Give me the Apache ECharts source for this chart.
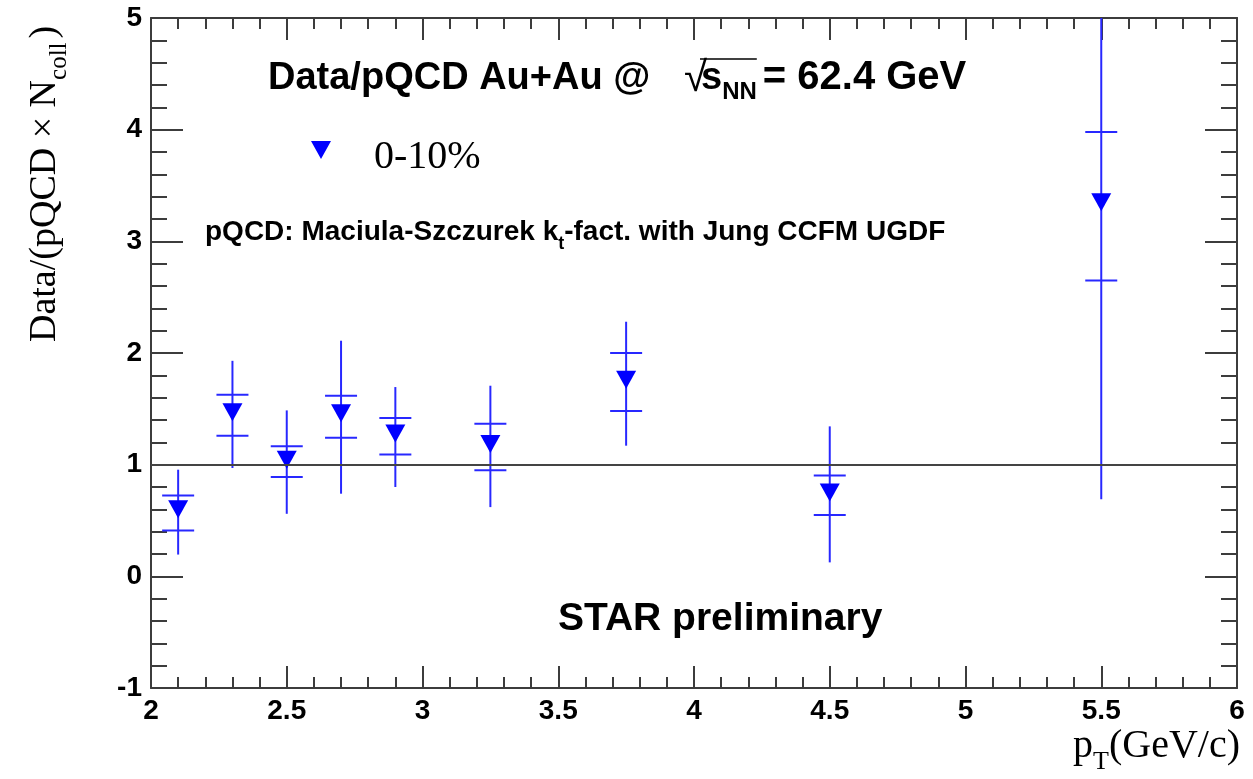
<!DOCTYPE html>
<html><head><meta charset="utf-8">
<script src="https://cdn.jsdelivr.net/npm/echarts@6/dist/echarts.min.js"></script>
<style>html,body{margin:0;padding:0;background:#fff}#c{width:1253px;height:779px}</style>
</head><body><div id="c"></div>
<script>
// ---- data ----
const pT       = [2.1, 2.3, 2.5, 2.7, 2.9, 3.25, 3.75, 4.5, 5.5];
const ratio    = [0.60, 1.47, 1.045, 1.46, 1.28, 1.185, 1.76, 0.75, 3.35];
const statLow  = [0.195, 0.97, 0.56, 0.74, 0.80, 0.62, 1.17, 0.125, 0.69];
const statHigh = [0.955, 1.93, 1.486, 2.11, 1.695, 1.707, 2.28, 1.343, 6.01];
const sysLow   = [0.41, 1.26, 0.89, 1.24, 1.09, 0.95, 1.48, 0.55, 2.65];
const sysHigh  = [0.725, 1.627, 1.164, 1.618, 1.418, 1.367, 2.0, 0.904, 3.98];
const referenceLevel = 1;
const xRange = [2, 6];
const xStep = 0.5;
const yRange = [-1, 5];
const yStep = 1;
const seriesName = '0-10%';

// ---- styling ----
const SANS = 'Liberation Sans, Arial, Helvetica, sans-serif';
const SERIF = 'Liberation Serif, Times New Roman, serif';
const AX = '#3c3c3c';
const BLUE = '#0000ff';
const ERR = 'rgb(40,40,255)';

const ctx = document.createElement('canvas').getContext('2d');
function measure(t, font) { ctx.font = font; return ctx.measureText(t).width; }
function fontOf(p) { return (p.bold ? 'bold ' : '') + p.size + 'px ' + p.family; }
function run(x, baseline, pieces) {
  let cx = x; const els = [];
  for (const p of pieces) {
    if (p.at !== undefined) cx = p.at;
    const f = fontOf(p);
    els.push({ type: 'text', x: cx, y: baseline - 0.35 * p.size + (p.dy || 0),
      style: { text: p.text, font: f, fill: '#000', textAlign: 'left', textVerticalAlign: 'middle', align: 'left', verticalAlign: 'middle' } });
    p._x = cx; p._w = measure(p.text, f);
    cx += p._w + (p.gap || 0);
  }
  return els;
}
function runWidth(pieces) { return pieces.reduce((s, p) => s + measure(p.text, fontOf(p)) + (p.gap || 0), 0); }

// title
const tPieces = [
  { text: 'Data/pQCD Au+Au @', size: 38, bold: true, family: SANS },
  { text: '\u221A', size: 42, bold: false, family: SANS, at: 684, dy: 2 },
  { text: 's', size: 38, bold: true, family: SANS, at: 701 },
  { text: 'NN', size: 24, bold: true, family: SANS, dy: 9, gap: 6 },
  { text: '= 62.4 GeV', size: 40, bold: true, family: SANS }
];
const titleEls = run(268, 92, tPieces);
const overline = { type: 'line', shape: { x1: tPieces[2]._x - 1, y1: 59, x2: tPieces[3]._x + tPieces[3]._w, y2: 59 },
  style: { stroke: '#000', lineWidth: 1.5 } };

// pQCD note
const nPieces = [
  { text: 'pQCD: Maciula-Szczurek k', size: 28, bold: true, family: SANS },
  { text: 't', size: 18, bold: true, family: SANS, dy: 8 },
  { text: '-fact. with Jung CCFM UGDF', size: 28, bold: true, family: SANS }
];
const noteEls = run(205, 242, nPieces);

// STAR preliminary
const starEls = run(558, 633, [{ text: 'STAR preliminary', size: 39, bold: true, family: SANS }]);

// x title
const xPieces = [
  { text: 'p', size: 40, family: SERIF },
  { text: 'T', size: 26, family: SERIF, dy: 11 },
  { text: '(GeV/c)', size: 40, family: SERIF }
];
const xTitleEls = run(1240 - runWidth(xPieces), 760, xPieces);

// y title (rotated)
const yPieces = [
  { text: 'Data/(pQCD \u00D7 N', size: 38, family: SERIF },
  { text: 'coll', size: 25, family: SERIF, dy: 10, gap: 4 },
  { text: ')', size: 38, family: SERIF }
];
const yTitle = { type: 'group', x: 58, y: 342, rotation: Math.PI / 2, children: run(0, 0, yPieces) };

const axisCommon = (pos, showLabel, major, minor) => ({
  type: 'value', position: pos,
  axisLine: { show: true, onZero: false, lineStyle: { color: AX, width: 2 } },
  axisTick: { show: true, inside: true, length: major, lineStyle: { color: AX, width: 2 } },
  minorTick: { show: true, splitNumber: 5, length: minor, lineStyle: { color: AX, width: 2 } },
  splitLine: { show: false },
  axisLabel: { show: showLabel, color: '#000', fontFamily: SANS, fontWeight: 'bold', fontSize: 28, margin: 9 }
});

const chart = echarts.init(document.getElementById('c'), null, { renderer: 'canvas' });
chart.setOption({
  animation: false,
  backgroundColor: '#fff',
  grid: { left: 151, right: 16, top: 18, bottom: 91, containLabel: false },
  xAxis: [
    Object.assign(axisCommon('bottom', true, 22, 11), { min: xRange[0], max: xRange[1], interval: xStep }),
    Object.assign(axisCommon('top', false, 22, 11), { min: xRange[0], max: xRange[1], interval: xStep })
  ],
  yAxis: [
    Object.assign(axisCommon('left', true, 32, 16), { min: yRange[0], max: yRange[1], interval: yStep }),
    Object.assign(axisCommon('right', false, 32, 16), { min: yRange[0], max: yRange[1], interval: yStep })
  ],
  legend: {
    left: 306, top: 132, itemWidth: 20, itemHeight: 32,
    icon: 'path://M0,0L20,0L10,18Z M10,32L10.01,32',
    data: [seriesName],
    textStyle: { fontFamily: SERIF, fontSize: 40, color: '#000', padding: [0, 0, 0, 38] }
  },
  series: [
    {
      type: 'custom', name: 'errors', z: 2,
      data: pT.map((x, i) => [x, statLow[i], statHigh[i], sysLow[i], sysHigh[i]]),
      encode: { x: 0, y: [1, 2, 3, 4] },
      renderItem: function (params, api) {
        const x = api.value(0);
        const top = api.coord([x, Math.min(api.value(2), yRange[1])]);
        const bot = api.coord([x, Math.max(api.value(1), yRange[0])]);
        const sl = api.coord([x, api.value(3)]);
        const sh = api.coord([x, api.value(4)]);
        const st = { stroke: ERR, lineWidth: 2 };
        return { type: 'group', children: [
          { type: 'line', shape: { x1: top[0], y1: top[1], x2: bot[0], y2: bot[1] }, style: st },
          { type: 'line', shape: { x1: sl[0] - 16, y1: sl[1], x2: sl[0] + 16, y2: sl[1] }, style: st },
          { type: 'line', shape: { x1: sh[0] - 16, y1: sh[1], x2: sh[0] + 16, y2: sh[1] }, style: st }
        ] };
      }
    },
    {
      type: 'scatter', name: seriesName, z: 3,
      data: pT.map((x, i) => [x, ratio[i]]),
      symbol: 'triangle', symbolRotate: 180, symbolSize: [20, 18],
      itemStyle: { color: BLUE, opacity: 1 },
      markLine: {
        silent: true, symbol: 'none', label: { show: false },
        lineStyle: { color: '#444', width: 2, type: 'solid' },
        data: [{ yAxis: referenceLevel }]
      }
    }
  ],
  graphic: [].concat(titleEls, [overline], noteEls, starEls, xTitleEls, [yTitle])
});
</script></body></html>
